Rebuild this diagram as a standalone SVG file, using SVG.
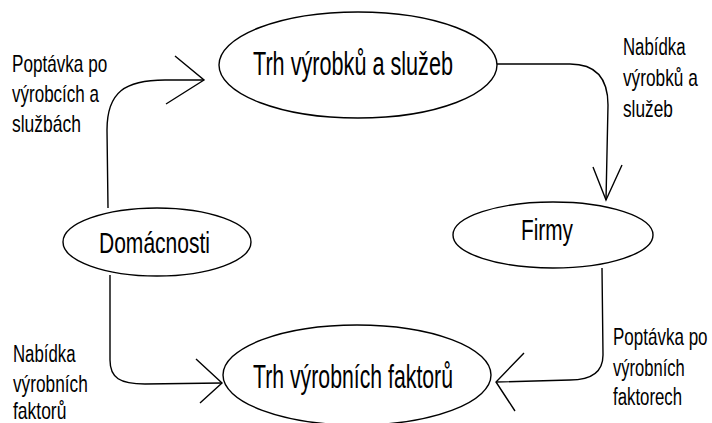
<svg xmlns="http://www.w3.org/2000/svg" width="712" height="423" viewBox="0 0 712 423">
<style>
.node{fill:#fff;stroke:#000;stroke-width:1.4}
.nt{font-family:"Liberation Sans",Arial,sans-serif;fill:#000}
.lbl{font-family:"Liberation Sans",Arial,sans-serif;font-size:23px;fill:#000}
.con{fill:none;stroke:#000;stroke-width:1.4}
</style>
<rect width="712" height="423" fill="#fff"/>
<g id="connectors">
<path class="con" d="M108,208 L107,130 C107,92 125,80 165,80 L204,80"/>
<polyline class="con" points="175,56 204,80 166,104"/>
<path class="con" d="M497,64 L570,64 C595,64 608,78 608,105 L606,200"/>
<polyline class="con" points="593,167 606,200 622,165"/>
<path class="con" d="M110,275 L110,360 C110,378 120,384 145,384 L222,383"/>
<polyline class="con" points="196,359 222,383 200,403"/>
<path class="con" d="M602,268 L603,355 C603,372 592,380 570,380 L496,382"/>
<polyline class="con" points="524,353 496,382 515,411"/>
</g>
<g id="trh-vyrobku">
<ellipse class="node" cx="358" cy="65" rx="139" ry="53"/>
<text class="nt" x="253" y="75" font-size="33" textLength="200" lengthAdjust="spacingAndGlyphs">Trh výrobků a služeb</text>
</g>
<g id="domacnosti">
<ellipse class="node" cx="157" cy="242" rx="94" ry="34"/>
<text class="nt" x="99" y="253" font-size="30" textLength="111" lengthAdjust="spacingAndGlyphs">Domácnosti</text>
</g>
<g id="firmy">
<ellipse class="node" cx="553" cy="235" rx="100" ry="33"/>
<text class="nt" x="521" y="240" font-size="30" textLength="52" lengthAdjust="spacingAndGlyphs">Firmy</text>
</g>
<g id="trh-faktoru">
<ellipse class="node" cx="357" cy="375" rx="134" ry="50"/>
<text class="nt" x="253" y="388" font-size="33" textLength="200" lengthAdjust="spacingAndGlyphs">Trh výrobních faktorů</text>
</g>
<g id="labels">
<text class="lbl" transform="translate(12,72) scale(0.745,1)">Poptávka po</text>
<text class="lbl" transform="translate(12,102) scale(0.74,1)">výrobcích a</text>
<text class="lbl" transform="translate(12,132) scale(0.76,1)">službách</text>
<text class="lbl" transform="translate(623,55) scale(0.73,1)">Nabídka</text>
<text class="lbl" transform="translate(623,86) scale(0.75,1)">výrobků a</text>
<text class="lbl" transform="translate(623,117) scale(0.75,1)">služeb</text>
<text class="lbl" transform="translate(13,362) scale(0.73,1)">Nabídka</text>
<text class="lbl" transform="translate(13,392) scale(0.75,1)">výrobních</text>
<text class="lbl" transform="translate(13,419) scale(0.76,1)">faktorů</text>
<text class="lbl" transform="translate(613,345) scale(0.74,1)">Poptávka po</text>
<text class="lbl" transform="translate(613,376) scale(0.72,1)">výrobních</text>
<text class="lbl" transform="translate(613,405) scale(0.73,1)">faktorech</text>
</g>
</svg>
